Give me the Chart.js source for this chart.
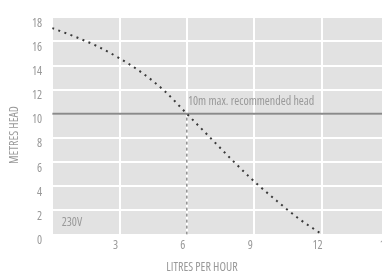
<!DOCTYPE html>
<html>
<head>
<meta charset="utf-8">
<script src="https://cdn.jsdelivr.net/npm/chart.js@4/dist/chart.umd.min.js"></script>
<style>
  html, body { margin: 0; padding: 0; background: #fff; overflow: hidden; }
  #wrap { width: 382px; height: 271px; overflow: hidden; position: relative; }
  canvas { display: block; }
</style>
</head>
<body>
<div id="wrap"><canvas id="c" width="398" height="271"></canvas></div>
<script>
// ---- Data ----
const flowLitresPerHour = [0, 1, 2, 3, 4, 5, 6, 7, 8, 9, 10, 11, 12];
const headMetres = [17.1, 16.4, 15.6, 14.6, 13.4, 11.9, 10.0, 8.1, 6.2, 4.4, 2.8, 1.3, 0.05];
const xTickValues = [0, 3, 6, 9, 12, 15];
const yTickValues = [0, 2, 4, 6, 8, 10, 12, 14, 16, 18];
const maxRecommendedHead = 10;
const flowAtMaxHead = 6;
const headLabel = "10m max. recommended head";
const voltageLabel = "230V";
const voltageLabelPos = [0.42, 0.98];
const xTitle = "LITRES PER HOUR";
const yTitle = "METRES HEAD";

const FAMILY = "'Open Sans', sans-serif";
const STRETCH = 'condensed';
const TEXT = '#999999';

const curve = flowLitresPerHour.map((x, i) => ({ x, y: headMetres[i] }));
const xMin = xTickValues[0], xMax = xTickValues[xTickValues.length - 1];
const yMin = yTickValues[0], yMax = yTickValues[yTickValues.length - 1];

const bgPlugin = {
  id: 'bg',
  beforeDraw(chart) {
    const { ctx, chartArea: a } = chart;
    ctx.save();
    ctx.fillStyle = '#e2e2e2';
    ctx.fillRect(a.left, a.top, a.right - a.left, a.bottom - a.top);
    ctx.restore();
  },
  afterDraw(chart) {
    const { ctx } = chart;
    const xs = chart.scales.x, ys = chart.scales.y;
    ctx.save();
    ctx.fillStyle = TEXT;
    ctx.font = STRETCH + " 12px " + FAMILY;
    ctx.textBaseline = 'middle';
    ctx.textAlign = 'left';
    ctx.fillText(headLabel, xs.getPixelForValue(flowAtMaxHead) + 1, ys.getPixelForValue(maxRecommendedHead) - 12);
    ctx.fillText(voltageLabel, xs.getPixelForValue(voltageLabelPos[0]), ys.getPixelForValue(voltageLabelPos[1]));
    // axis titles
    ctx.textAlign = 'center';
    ctx.fillText(xTitle, 202, 268);
    ctx.translate(15, 135);
    ctx.rotate(-Math.PI / 2);
    ctx.fillText(yTitle, 0, 0);
    ctx.restore();
  }
};

new Chart(document.getElementById('c'), {
  type: 'line',
  data: {
    datasets: [
      {
        data: [{ x: flowAtMaxHead, y: yMin }, { x: flowAtMaxHead, y: maxRecommendedHead }],
        borderColor: '#555',
        borderWidth: 1,
        borderDash: [3, 3],
        pointRadius: 0,
        order: 3
      },
      {
        data: [{ x: xMin, y: maxRecommendedHead }, { x: xMax, y: maxRecommendedHead }],
        borderColor: '#8a8a8a',
        borderWidth: 2,
        pointRadius: 0,
        order: 2
      },
      {
        data: curve,
        borderColor: '#3a3a3a',
        borderWidth: 2,
        borderDash: [2, 4.5],
        cubicInterpolationMode: 'monotone',
        pointRadius: 0,
        order: 1
      }
    ]
  },
  options: {
    responsive: false,
    animation: false,
    events: [],
    layout: { padding: { left: 22, top: 0, right: 0, bottom: 14 } },
    plugins: { legend: { display: false }, tooltip: { enabled: false } },
    scales: {
      x: {
        type: 'linear',
        min: xMin, max: xMax,
        afterBuildTicks(s) { s.ticks = xTickValues.map(v => ({ value: v })); },
        grid: { color: '#ffffff', lineWidth: 2, drawTicks: false },
        border: { display: false },
        ticks: {
          color: TEXT,
          font: { family: FAMILY, weight: STRETCH, size: 12 },
          padding: 4,
          labelOffset: -4,
          callback: v => (v === 0 ? '' : String(v))
        }
      },
      y: {
        type: 'linear',
        min: yMin, max: yMax,
        afterBuildTicks(s) { s.ticks = yTickValues.map(v => ({ value: v })); },
        grid: { color: '#ffffff', lineWidth: 2, drawTicks: false },
        border: { display: false },
        ticks: {
          color: TEXT,
          font: { family: FAMILY, weight: STRETCH, size: 12 },
          padding: 10,
          labelOffset: 6
        }
      }
    }
  },
  plugins: [bgPlugin]
});
</script>
</body>
</html>
